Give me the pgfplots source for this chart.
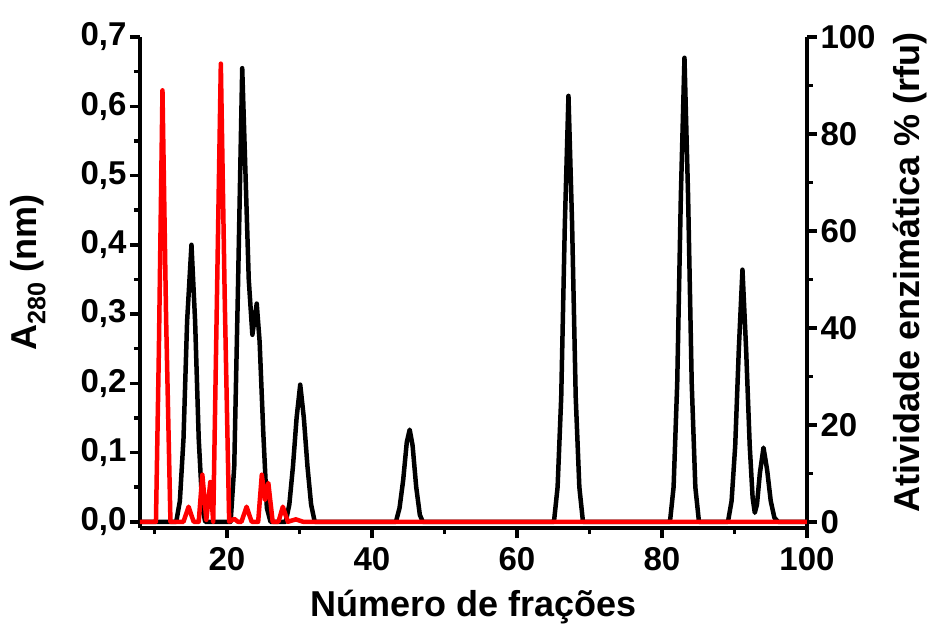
\documentclass[border=0pt]{standalone}
\usepackage{pgfplots}
\pgfplotsset{compat=1.18}
\usepackage{fontspec}
\setmainfont{Liberation Sans}

\pgfplotstableread{
x y
8 0
13 0
13.5 0.03
14 0.12
14.5 0.29
15.1 0.40
15.6 0.29
16.1 0.12
16.6 0.02
17 0
20.5 0
21 0.08
21.5 0.33
22.1 0.655
22.5 0.52
23 0.35
23.5 0.27
24.1 0.315
24.5 0.26
25 0.13
25.5 0.02
26 0
28.1 0
28.6 0.025
29.1 0.08
29.6 0.15
30.1 0.198
30.6 0.15
31.1 0.08
31.6 0.025
32.1 0
43.3 0
43.8 0.02
44.3 0.06
44.8 0.115
45.2 0.133
45.6 0.11
46.1 0.05
46.6 0.01
47 0
65.1 0
65.6 0.05
66.1 0.18
66.6 0.43
67.1 0.615
67.6 0.43
68.1 0.18
68.6 0.05
69.1 0
81.1 0
81.6 0.05
82.1 0.2
82.6 0.47
83.1 0.67
83.6 0.47
84.1 0.2
84.6 0.05
85.1 0
89.1 0
89.6 0.03
90.1 0.11
90.6 0.25
91.1 0.364
91.6 0.25
92.1 0.11
92.5 0.035
92.8 0.013
93.1 0.025
93.5 0.07
94 0.107
94.5 0.075
95 0.03
95.5 0.006
96 0
100 0
}\absorb

\pgfplotstableread{
x y
8 0
10.2 0
10.6 35
11.1 89
11.6 42
12.2 0
14 0
14.7 3.1
15.4 0
16.1 0
16.6 9.7
17.15 0.4
17.7 8.2
18.1 0
18.6 45
19.15 94.5
19.7 45
20.3 0
21.0 0.6
21.5 0
22 0
22.7 3.1
23.4 0
24.3 0
24.8 9.7
25.25 4.5
25.7 8.0
26.3 0
27.1 0
27.7 3.1
28.4 0
29.5 0.5
30.5 0
100 0
}\atividade

\begin{document}
\begin{tikzpicture}
\pgfplotsset{
  common/.style={
    scale only axis, width=667pt, height=491pt,
    xmin=8, xmax=100,
    axis line style={line width=3.5pt, black},
    tick align=outside,
    major tick length=10pt, minor tick length=6pt,
    tick style={line width=3.5pt, black},
    tick label style={font=\bfseries\fontsize{33}{33}\selectfont},
    label style={font=\bfseries\fontsize{36}{36}\selectfont},
    /pgf/number format/assume math mode=true,
  }
}
\begin{axis}[common,
  axis x line*=bottom, axis y line*=left,
  ymin=-0.009, ymax=0.7,
  ytick={0,0.1,0.2,0.3,0.4,0.5,0.6,0.7},
  minor ytick={0.05,0.15,0.25,0.35,0.45,0.55,0.65},
  xtick={20,40,60,80,100}, minor xtick={10,30,50,70,90},
  yticklabel style={/pgf/number format/.cd, fixed, fixed zerofill, precision=1, use comma},
  xticklabel style={yshift=-6pt},
  xlabel={Número de frações}, ylabel={A\textsubscript{280} (nm)},
  xlabel style={at={(axis description cs:0.5,-0.161)}, anchor=center},
  ylabel style={at={(axis description cs:-0.168,0.52)}, anchor=center},
]
\addplot[black, line width=4.5pt, line join=round] table[x=x, y=y] {\absorb};
\end{axis}
\begin{axis}[common,
  axis x line=none, axis y line*=right,
  ymin=-1.286, ymax=100,
  ytick={0,20,40,60,80,100}, minor ytick={10,30,50,70,90},
  ylabel={Atividade enzimática \% (rfu)},
  ylabel style={at={(axis description cs:1.154,0.52)}, anchor=center},
]
\addplot[red, line width=4.5pt, line join=round] table[x=x, y=y] {\atividade};
\end{axis}
\pgfresetboundingbox
\path (current axis.south west) ++(-140pt,-97pt) rectangle ++(935pt,625pt);
\end{tikzpicture}
\end{document}
